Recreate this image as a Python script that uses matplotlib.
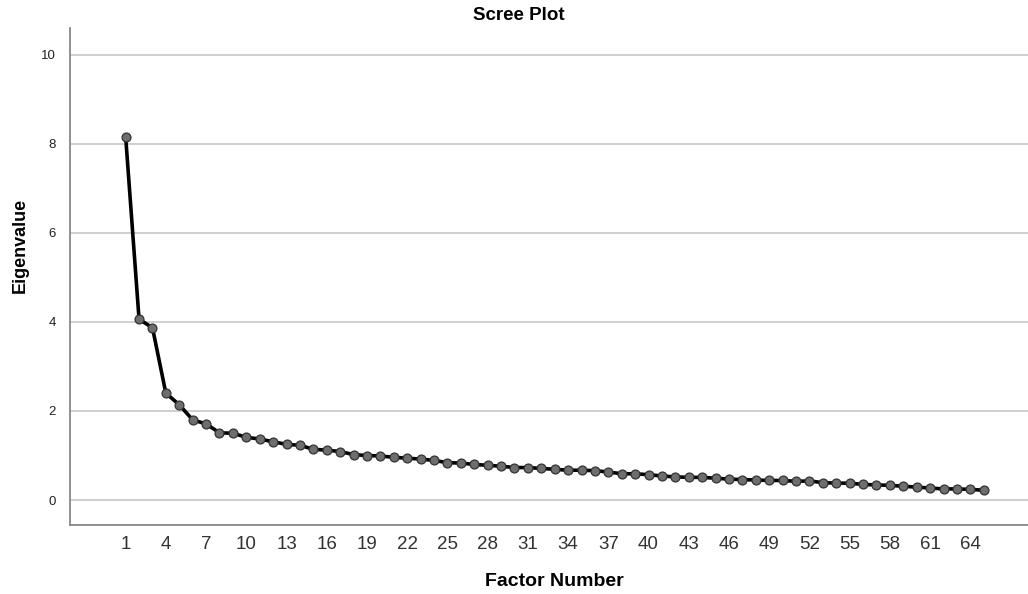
import matplotlib
matplotlib.use("Agg")
import matplotlib.pyplot as plt

plt.rcParams['font.family'] = ['Liberation Sans', 'DejaVu Sans']

factors = list(range(1, 66))
eigenvalues = [8.16, 4.06, 3.87, 2.40, 2.14, 1.80, 1.71, 1.51, 1.50, 1.41,
               1.37, 1.31, 1.25, 1.23, 1.14, 1.12, 1.09, 1.02, 1.00, 0.99,
               0.96, 0.94, 0.92, 0.89, 0.84, 0.83, 0.80, 0.78, 0.76, 0.73,
               0.73, 0.71, 0.69, 0.67, 0.67, 0.66, 0.63, 0.59, 0.59, 0.57,
               0.54, 0.52, 0.51, 0.51, 0.49, 0.47, 0.46, 0.45, 0.44, 0.44,
               0.42, 0.43, 0.39, 0.38, 0.38, 0.35, 0.34, 0.33, 0.31, 0.29,
               0.27, 0.25, 0.25, 0.24, 0.22]
xticks = list(range(1, 65, 3))
yticks = [0, 2, 4, 6, 8, 10]

W, H = 1028, 594
fig = plt.figure(figsize=(W / 100, H / 100), dpi=100)
ax = fig.add_axes([70 / W, 1 - 525 / H, (W - 70) / W, (525 - 28) / H])

ax.plot(factors, eigenvalues, color='black', linewidth=2.6, zorder=3,
        marker='o', markersize=6.4, markerfacecolor='#6e6e6e',
        markeredgecolor='#333333', markeredgewidth=0.9)

ax.set_xlim(-3.15, 68.3)
ax.set_ylim(-0.56, 10.6)
ax.set_xticks(xticks)
ax.set_yticks(yticks)
ax.tick_params(axis='x', length=0, pad=8, labelsize=13.5, labelcolor='#333333')
ax.tick_params(axis='y', length=0, pad=10, labelsize=9.5, labelcolor='#222222')
ax.grid(axis='y', color='#cccccc', linewidth=1.3, zorder=0)
ax.set_axisbelow(True)
for s in ['top', 'right']:
    ax.spines[s].set_visible(False)
for s in ['left', 'bottom']:
    ax.spines[s].set_color('#888888')
    ax.spines[s].set_linewidth(1.3)

fig.text(519 / W, 1 - 15 / H, 'Scree Plot', ha='center', va='center',
         fontsize=13.5, fontweight='bold')
fig.text(554 / W, 1 - 582 / H, 'Factor Number', ha='center', va='center',
         fontsize=14, fontweight='bold')
fig.text(20 / W, 1 - 245 / H, 'Eigenvalue', ha='center', va='center',
         rotation=90, fontsize=13, fontweight='bold')

fig.savefig('out.png', dpi=100)
